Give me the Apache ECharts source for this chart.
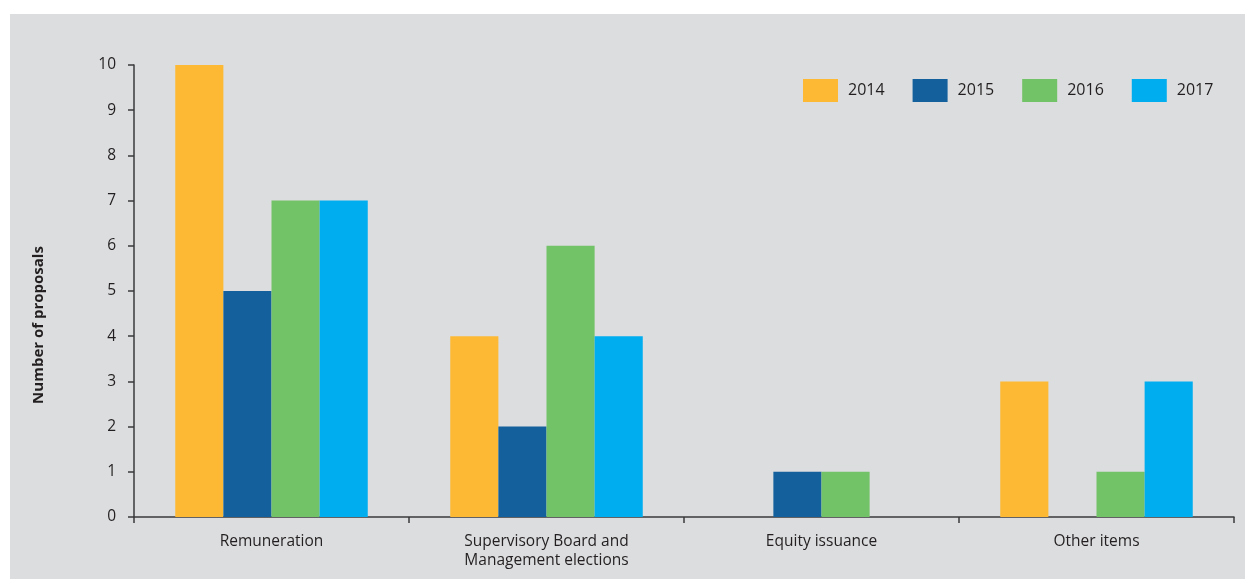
<!DOCTYPE html>
<html>
<head>
<meta charset="utf-8">
<script src="https://cdn.jsdelivr.net/npm/echarts@6/dist/echarts.min.js"></script>
<style>
  html, body { margin: 0; padding: 0; background: #ffffff; }
  #frame { position: absolute; left: 10px; top: 14px; width: 1235px; height: 565px; background: #dcdddf; }
  #chart { position: absolute; left: 0; top: 0; width: 1245px; height: 579px; }
</style>
</head>
<body>
<div id="frame"></div>
<div id="chart"></div>
<script>
// Shareholder proposals by topic, per year
const categories = ['Remuneration', 'Supervisory Board and\nManagement elections', 'Equity issuance', 'Other items'];
const years = ['2014', '2015', '2016', '2017'];
const values2014 = [10, 4, 0, 3];
const values2015 = [5, 2, 1, 0];
const values2016 = [7, 6, 1, 1];
const values2017 = [7, 4, 0, 3];
const yTicks = [0, 1, 2, 3, 4, 5, 6, 7, 8, 9, 10];
const colors = ['#fdb933', '#13609c', '#72c267', '#00aeef'];

const seriesValues = [values2014, values2015, values2016, values2017];
const font = '"Open Sans", "Noto Sans", sans-serif';

const chart = echarts.init(document.getElementById('chart'), null, { renderer: 'canvas' });
chart.setOption({
  backgroundColor: 'transparent',
  textStyle: { fontFamily: font, color: '#231f20' },
  legend: {
    data: years,
    left: 803,
    top: 79,
    padding: 0,
    itemWidth: 35,
    itemHeight: 23,
    itemGap: 28,
    icon: 'rect',
    textStyle: { fontSize: 16, color: '#231f20', fontFamily: font, padding: [2, 0, 0, 5] }
  },
  grid: { left: 134, right: 11, top: 65, bottom: 62, containLabel: false },
  xAxis: {
    type: 'category',
    data: categories,
    axisLine: { lineStyle: { color: '#3a3a3c', width: 1.5 } },
    axisTick: { show: true, length: 6, lineStyle: { color: '#3a3a3c', width: 1.5 } },
    axisLabel: { color: '#231f20', fontSize: 15.5, margin: 15, lineHeight: 19, fontFamily: font }
  },
  yAxis: {
    type: 'value',
    min: yTicks[0],
    max: yTicks[yTicks.length - 1],
    interval: 1,
    name: 'Number of proposals',
    nameLocation: 'middle',
    nameGap: 88,
    nameRotate: 90,
    nameTextStyle: { fontSize: 15, fontWeight: 'bold', color: '#231f20', fontFamily: font, padding: [0, 68, 0, 0] },
    splitLine: { show: false },
    axisLine: { show: true, lineStyle: { color: '#3a3a3c', width: 1.5 } },
    axisTick: { show: true, length: 6, lineStyle: { color: '#3a3a3c', width: 1.5 } },
    axisLabel: { color: '#231f20', fontSize: 15.5, margin: 18, fontFamily: font }
  },
  series: years.map((y, i) => ({
    name: y,
    type: 'bar',
    data: seriesValues[i],
    itemStyle: { color: colors[i] },
    barGap: '0%',
    barCategoryGap: '30%',
    animation: false
  }))
});
</script>
</body>
</html>
